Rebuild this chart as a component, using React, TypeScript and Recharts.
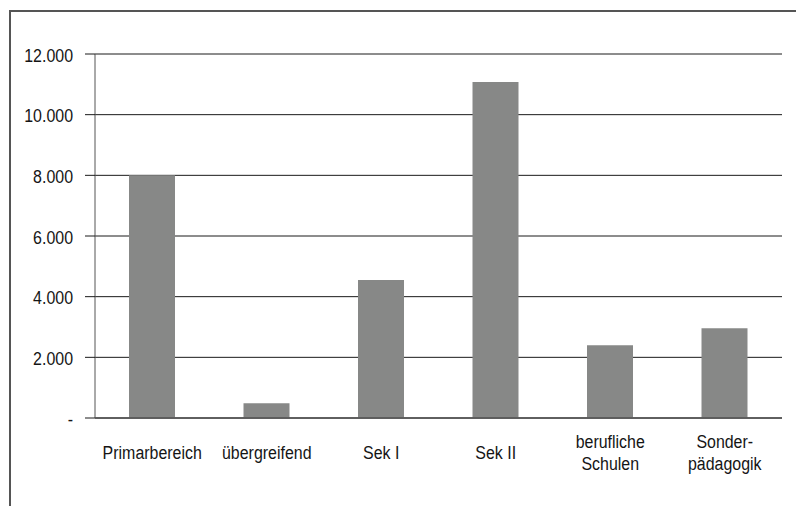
import React from 'react'
import { BarChart, Bar, XAxis, YAxis, CartesianGrid } from 'recharts'

const categories = ['Primarbereich', 'übergreifend', 'Sek I', 'Sek II', 'berufliche\nSchulen', 'Sonder-\npädagogik']
const values = [8000, 490, 4550, 11080, 2400, 2960]
const yTicks = [0, 2000, 4000, 6000, 8000, 10000, 12000]

const data = categories.map((name, i) => ({ name, value: values[i] }))

// no condensed font installed, so squeeze Liberation Sans horizontally
const FONT = "'Liberation Sans', Arial, sans-serif"
const SQUEEZE = 0.84
const SIZE = 19

const formatY = (v: number) => (v === 0 ? '-' : v.toLocaleString('de-DE'))

const XTick = ({ x, y, payload }: any) => {
  const lines = String(payload.value).split('\n')
  const n = lines.length
  return (
    <g transform={`translate(${x},${y}) scale(${SQUEEZE},1)`}>
      <text x={0} y={0} textAnchor="middle" fill="#151515" fontSize={SIZE} fontFamily={FONT}>
        {lines.map((l, i) => (
          <tspan key={i} x={0} y={41 + (i - (n - 1) / 2) * 22}>
            {l}
          </tspan>
        ))}
      </text>
    </g>
  )
}

const YTick = ({ y, payload }: any) => (
  <g transform={`translate(73,${y}) scale(${SQUEEZE},1)`}>
    <text x={0} y={7.5} textAnchor="end" fill="#151515" fontSize={SIZE} fontFamily={FONT}>
      {formatY(payload.value)}
    </text>
  </g>
)

export default function App() {
  return (
    <div style={{ position: 'absolute', left: 0, top: 0, width: 796, height: 506, background: '#fff' }}>
      <div
        style={{
          position: 'absolute',
          left: 9,
          top: 10,
          width: 800,
          height: 520,
          borderTop: '2px solid #555',
          borderLeft: '2px solid #555',
        }}
      />
      <div style={{ position: 'absolute', left: 0, top: 0 }}>
        <BarChart
          width={796}
          height={506}
          data={data}
          margin={{ top: 54, right: 14, bottom: 28, left: 0 }}
          barCategoryGap="30%"
        >
          <CartesianGrid vertical={false} stroke="#1a1a1a" strokeWidth={1} />
          <XAxis
            dataKey="name"
            interval={0}
            height={60}
            tickLine={false}
            tickSize={0}
            tickMargin={0}
            axisLine={{ stroke: '#333' }}
            tick={<XTick />}
          />
          <YAxis
            width={95}
            domain={[0, 12000]}
            ticks={yTicks}
            interval={0}
            tickSize={10}
            tickLine={{ stroke: '#1a1a1a' }}
            axisLine={{ stroke: '#555' }}
            tick={<YTick />}
          />
          <Bar dataKey="value" fill="#878887" barSize={46} isAnimationActive={false} />
        </BarChart>
      </div>
    </div>
  )
}
